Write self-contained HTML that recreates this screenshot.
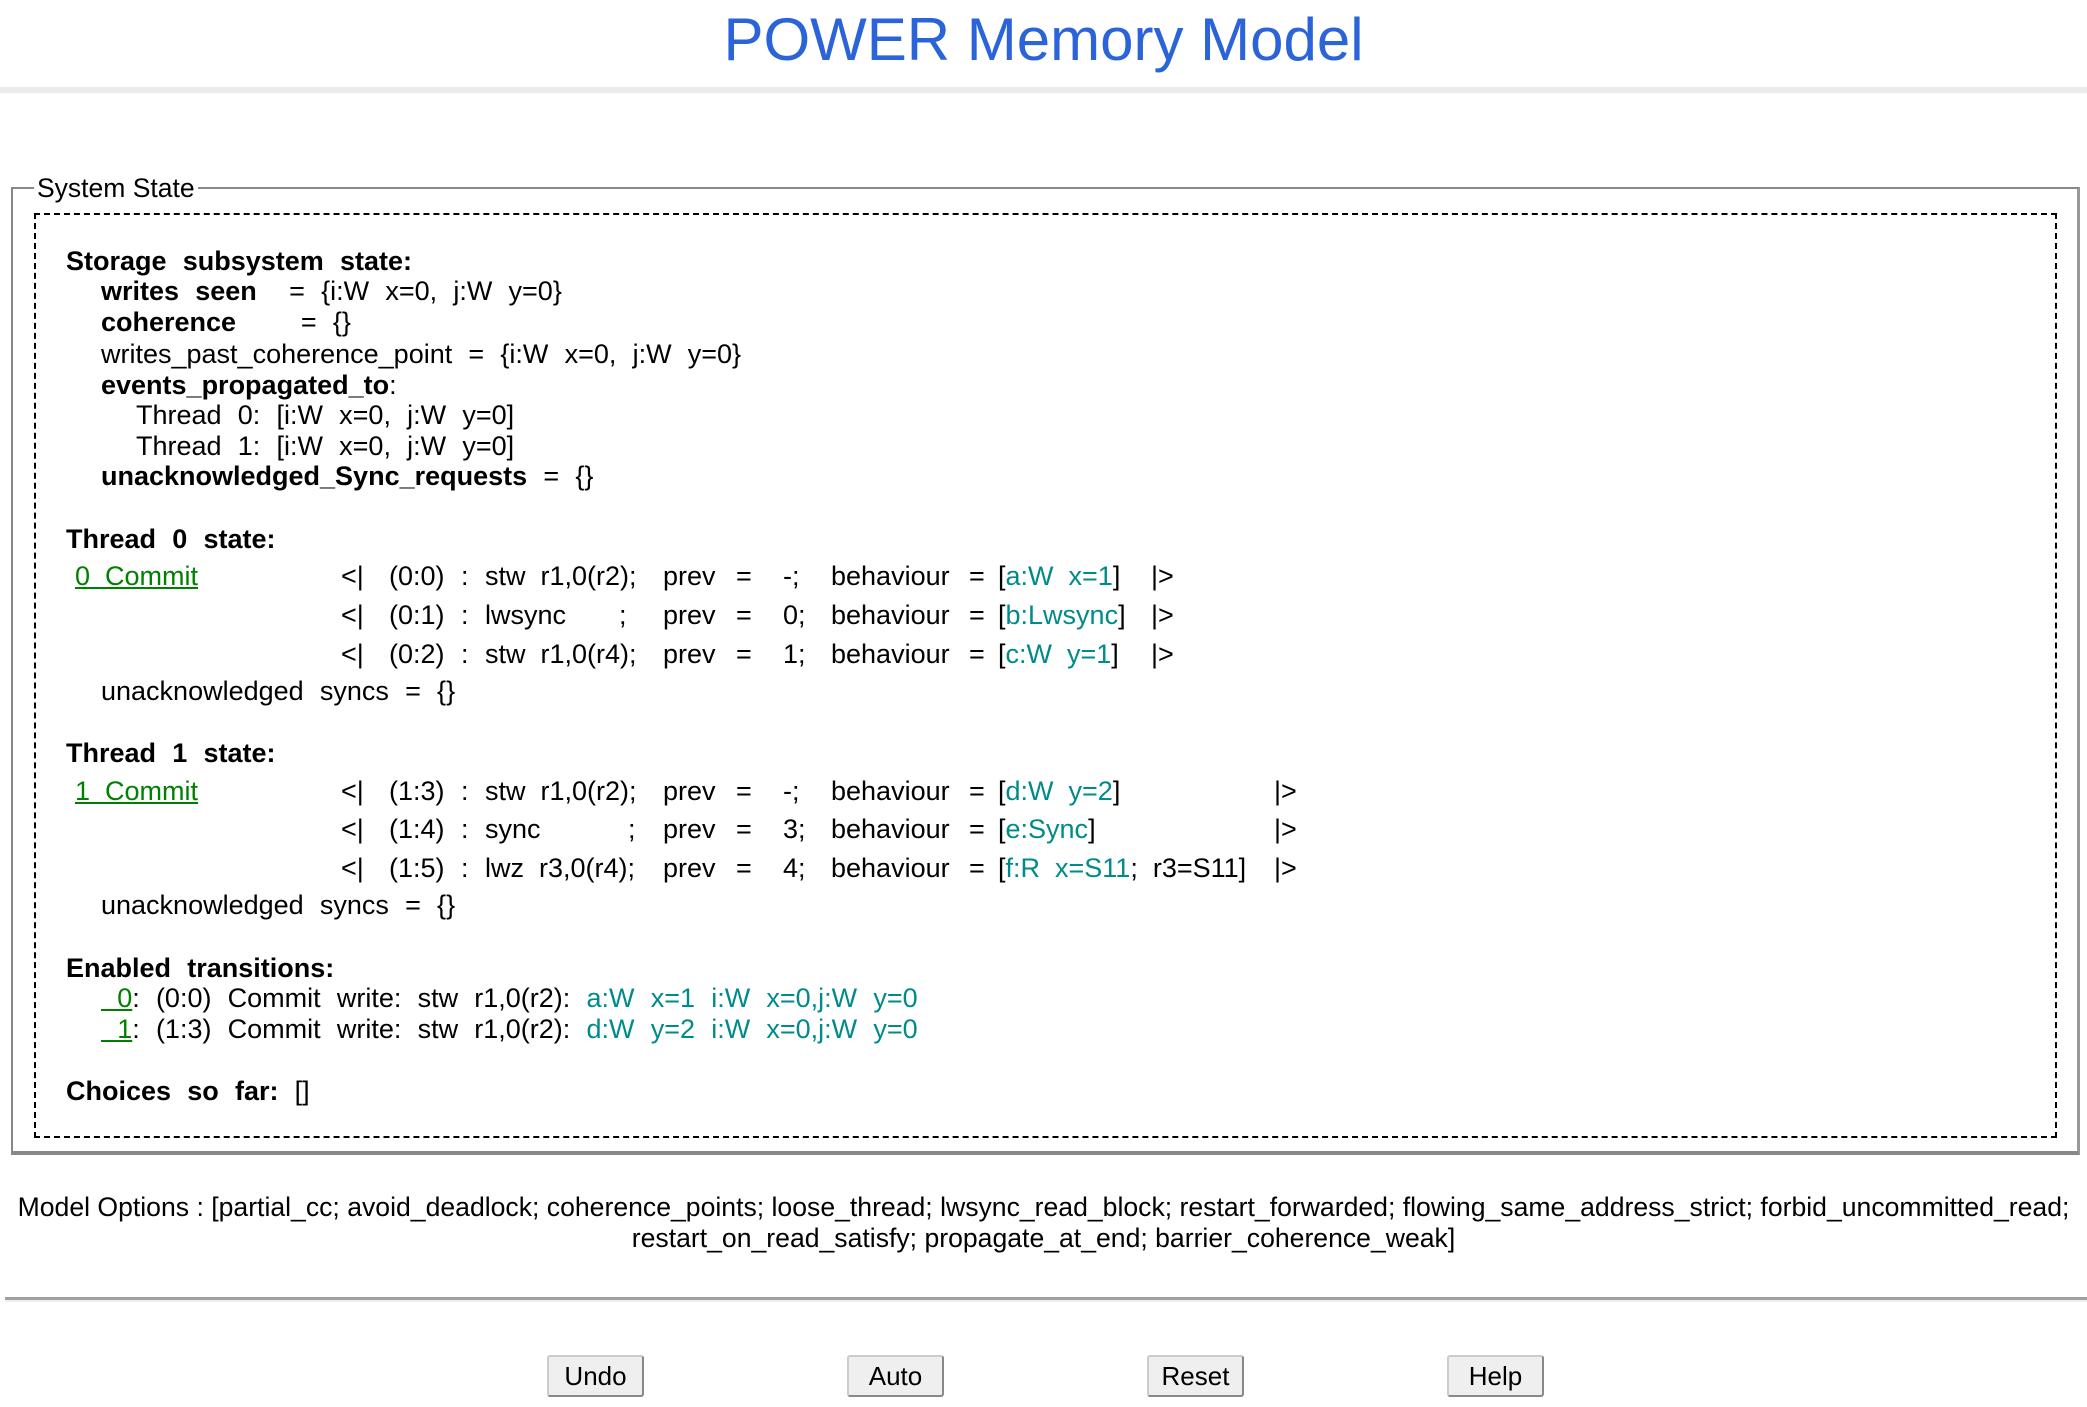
<!DOCTYPE html>
<html><head><meta charset="utf-8"><style>
body{margin:0;width:2087px;height:1407px;position:relative;background:#fff;font-family:"Liberation Sans",sans-serif;color:#000;overflow:hidden}
.a{position:absolute;white-space:pre;font-size:27px;line-height:28px}
.w{word-spacing:0.6px}
.b{font-weight:bold}
.t{color:#008b8b}
.g{color:#008000;text-decoration:underline}
.btn{position:absolute;top:1355px;width:97px;height:42px;box-sizing:border-box;border:2px solid #888;border-top-color:#ccc;border-left-color:#ccc;background:#efefef;border-radius:3px;font-size:26px;text-align:center;line-height:38px}
</style></head><body>
<div style="position:absolute;left:0;width:2087px;top:4px;text-align:center;font-size:60px;line-height:72px;color:#2b63d9">POWER Memory Model</div>
<div style="position:absolute;left:0;width:2087px;top:87px;height:6px;background:#ebebeb"></div>

<div style="position:absolute;left:11px;top:187px;width:2069px;height:968px;box-sizing:border-box;border:2px solid #888;border-bottom:4px solid #888;border-right:3px solid #999"></div>
<div class="a" style="left:34px;top:174px;background:#fff;padding:0 3px;font-size:26.5px">System State</div>
<div style="position:absolute;left:34px;top:213px;width:2023px;height:925px;box-sizing:border-box;border:2px dashed #000"></div>

<div class="a b w" style="left:66px;top:247px">Storage  subsystem  state:</div>
<div class="a w" style="left:101px;top:277px"><b>writes  seen</b>    =  {i:W  x=0,  j:W  y=0}</div>
<div class="a w" style="left:101px;top:308px"><b>coherence</b>        =  {}</div>
<div class="a w" style="left:101px;top:340px">writes_past_coherence_point  =  {i:W  x=0,  j:W  y=0}</div>
<div class="a w" style="left:101px;top:371px"><b>events_propagated_to</b>:</div>
<div class="a w" style="left:136px;top:401px">Thread  0:  [i:W  x=0,  j:W  y=0]</div>
<div class="a w" style="left:136px;top:432px">Thread  1:  [i:W  x=0,  j:W  y=0]</div>
<div class="a w" style="left:101px;top:462px"><b>unacknowledged_Sync_requests</b>  =  {}</div>

<div class="a b w" style="left:66px;top:525px">Thread  0  state:</div>
<div class="a g" style="left:72px;top:562px;padding-left:3px">0  Commit</div>
<div class="a" style="left:341px;top:562px">&lt;|</div><div class="a" style="left:389px;top:562px">(0:0)</div><div class="a" style="left:461px;top:562px">:</div><div class="a" style="left:485px;top:562px">stw  r1,0(r2);</div><div class="a" style="left:663px;top:562px">prev</div><div class="a" style="left:736px;top:562px">=</div><div class="a" style="left:783px;top:562px">-;</div><div class="a" style="left:831px;top:562px">behaviour</div><div class="a" style="left:969px;top:562px">=</div><div class="a" style="left:998px;top:562px">[<span class="t">a:W  x=1</span>]</div><div class="a" style="left:1151px;top:562px">|&gt;</div>
<div class="a" style="left:341px;top:601px">&lt;|</div><div class="a" style="left:389px;top:601px">(0:1)</div><div class="a" style="left:461px;top:601px">:</div><div class="a" style="left:485px;top:601px">lwsync</div><div class="a" style="left:619px;top:601px">;</div><div class="a" style="left:663px;top:601px">prev</div><div class="a" style="left:736px;top:601px">=</div><div class="a" style="left:783px;top:601px">0;</div><div class="a" style="left:831px;top:601px">behaviour</div><div class="a" style="left:969px;top:601px">=</div><div class="a" style="left:998px;top:601px">[<span class="t">b:Lwsync</span>]</div><div class="a" style="left:1151px;top:601px">|&gt;</div>
<div class="a" style="left:341px;top:640px">&lt;|</div><div class="a" style="left:389px;top:640px">(0:2)</div><div class="a" style="left:461px;top:640px">:</div><div class="a" style="left:485px;top:640px">stw  r1,0(r4);</div><div class="a" style="left:663px;top:640px">prev</div><div class="a" style="left:736px;top:640px">=</div><div class="a" style="left:783px;top:640px">1;</div><div class="a" style="left:831px;top:640px">behaviour</div><div class="a" style="left:969px;top:640px">=</div><div class="a" style="left:998px;top:640px">[<span class="t">c:W  y=1</span>]</div><div class="a" style="left:1151px;top:640px">|&gt;</div>
<div class="a w" style="left:101px;top:677px">unacknowledged  syncs  =  {}</div>

<div class="a b w" style="left:66px;top:739px">Thread  1  state:</div>
<div class="a g" style="left:72px;top:777px;padding-left:3px">1  Commit</div>
<div class="a" style="left:341px;top:777px">&lt;|</div><div class="a" style="left:389px;top:777px">(1:3)</div><div class="a" style="left:461px;top:777px">:</div><div class="a" style="left:485px;top:777px">stw  r1,0(r2);</div><div class="a" style="left:663px;top:777px">prev</div><div class="a" style="left:736px;top:777px">=</div><div class="a" style="left:783px;top:777px">-;</div><div class="a" style="left:831px;top:777px">behaviour</div><div class="a" style="left:969px;top:777px">=</div><div class="a" style="left:998px;top:777px">[<span class="t">d:W  y=2</span>]</div><div class="a" style="left:1274px;top:777px">|&gt;</div>
<div class="a" style="left:341px;top:815px">&lt;|</div><div class="a" style="left:389px;top:815px">(1:4)</div><div class="a" style="left:461px;top:815px">:</div><div class="a" style="left:485px;top:815px">sync</div><div class="a" style="left:628px;top:815px">;</div><div class="a" style="left:663px;top:815px">prev</div><div class="a" style="left:736px;top:815px">=</div><div class="a" style="left:783px;top:815px">3;</div><div class="a" style="left:831px;top:815px">behaviour</div><div class="a" style="left:969px;top:815px">=</div><div class="a" style="left:998px;top:815px">[<span class="t">e:Sync</span>]</div><div class="a" style="left:1274px;top:815px">|&gt;</div>
<div class="a" style="left:341px;top:854px">&lt;|</div><div class="a" style="left:389px;top:854px">(1:5)</div><div class="a" style="left:461px;top:854px">:</div><div class="a" style="left:485px;top:854px">lwz  r3,0(r4);</div><div class="a" style="left:663px;top:854px">prev</div><div class="a" style="left:736px;top:854px">=</div><div class="a" style="left:783px;top:854px">4;</div><div class="a" style="left:831px;top:854px">behaviour</div><div class="a" style="left:969px;top:854px">=</div><div class="a" style="left:998px;top:854px">[<span class="t">f:R  x=S11</span>;  r3=S11]</div><div class="a" style="left:1274px;top:854px">|&gt;</div>
<div class="a w" style="left:101px;top:891px">unacknowledged  syncs  =  {}</div>

<div class="a b w" style="left:66px;top:954px">Enabled  transitions:</div>
<div class="a w" style="left:101px;top:984px"><span class="g">  0</span>:  (0:0)  Commit  write:  stw  r1,0(r2):  <span class="t">a:W  x=1  i:W  x=0,j:W  y=0</span></div>
<div class="a w" style="left:101px;top:1015px"><span class="g">  1</span>:  (1:3)  Commit  write:  stw  r1,0(r2):  <span class="t">d:W  y=2  i:W  x=0,j:W  y=0</span></div>
<div class="a b w" style="left:66px;top:1077px">Choices  so  far:  <span style="font-weight:normal">[]</span></div>

<div class="a" style="left:0;width:2087px;text-align:center;top:1192px;white-space:normal;line-height:31px;font-size:26.6px">Model Options : [partial_cc; avoid_deadlock; coherence_points; loose_thread; lwsync_read_block; restart_forwarded; flowing_same_address_strict; forbid_uncommitted_read;<br>restart_on_read_satisfy; propagate_at_end; barrier_coherence_weak]</div>
<div style="position:absolute;left:5px;width:2082px;top:1297px;height:3px;background:#a0a0a0"></div>
<div style="position:absolute;left:5px;width:2082px;top:1300px;height:2px;background:#eee"></div>

<div class="btn" style="left:547px">Undo</div>
<div class="btn" style="left:847px">Auto</div>
<div class="btn" style="left:1147px">Reset</div>
<div class="btn" style="left:1447px">Help</div>
</body></html>
